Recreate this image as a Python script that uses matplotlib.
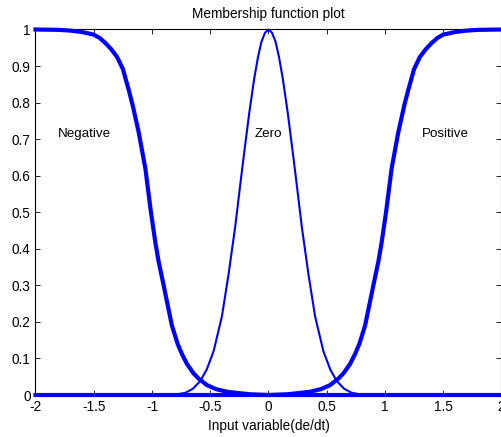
import matplotlib
matplotlib.use("Agg")
import matplotlib.pyplot as plt

plt.rcParams["font.family"] = ["Liberation Sans", "DejaVu Sans"]

# membership curves
neg_x = [-2.0, -1.8, -1.7, -1.6, -1.5, -1.45, -1.4, -1.35, -1.3, -1.25, -1.2,
         -1.166, -1.115, -1.057, -1.009, -0.97, -0.943, -0.9, -0.886, -0.829,
         -0.78, -0.743, -0.7, -0.643, -0.6, -0.528, -0.45, -0.357, -0.25, -0.16,
         0.0, 2.0]
neg_y = [1.0, 0.999, 0.997, 0.993, 0.986, 0.977, 0.963, 0.946, 0.925, 0.892, 0.835,
         0.793, 0.720, 0.620, 0.500, 0.415, 0.365, 0.300, 0.278, 0.190,
         0.140, 0.112, 0.085, 0.059, 0.045, 0.027, 0.016, 0.009, 0.005, 0.002,
         0.0, 0.0]

zero_x = [-2.0, -1.0, -0.80, -0.714, -0.65, -0.586, -0.53, -0.471, -0.40, -0.343,
          -0.286, -0.237, -0.20, -0.166, -0.123, -0.09, -0.06, -0.03, 0.0,
          0.03, 0.06, 0.09, 0.123, 0.166, 0.20, 0.237, 0.286, 0.343, 0.40,
          0.471, 0.53, 0.586, 0.65, 0.714, 0.80, 1.0, 2.0]
zero_y = [0.0, 0.0, 0.001, 0.006, 0.017, 0.038, 0.070, 0.120, 0.215, 0.330,
          0.460, 0.590, 0.685, 0.770, 0.865, 0.925, 0.967, 0.991, 1.0,
          0.991, 0.967, 0.925, 0.865, 0.770, 0.685, 0.590, 0.460, 0.330, 0.215,
          0.120, 0.070, 0.038, 0.017, 0.006, 0.001, 0.0, 0.0]

pos_x = [-2.0, 0.0, 0.16, 0.25, 0.357, 0.45, 0.528, 0.6, 0.643, 0.7, 0.743, 0.78,
         0.829, 0.886, 0.9, 0.943, 0.97, 1.009, 1.057, 1.115, 1.166, 1.2, 1.25,
         1.3, 1.35, 1.4, 1.45, 1.5, 1.6, 1.7, 1.8, 2.0]
pos_y = [0.0, 0.0, 0.002, 0.005, 0.009, 0.016, 0.027, 0.045, 0.059, 0.085, 0.112,
         0.140, 0.190, 0.278, 0.300, 0.365, 0.415, 0.500, 0.620, 0.720, 0.793,
         0.835, 0.892, 0.925, 0.946, 0.963, 0.977, 0.986, 0.993, 0.997, 0.999, 1.0]

labels = ["Negative", "Zero", "Positive"]
label_x = [-1.58, 0.0, 1.52]
label_y = 0.715

xticks = [-2, -1.5, -1, -0.5, 0, 0.5, 1, 1.5, 2]
xtick_labels = ["-2", "-1.5", "-1", "-0.5", "0", "0.5", "1", "1.5", "2"]
yticks = [0, 0.1, 0.2, 0.3, 0.4, 0.5, 0.6, 0.7, 0.8, 0.9, 1]
ytick_labels = ["0", "0.1", "0.2", "0.3", "0.4", "0.5", "0.6", "0.7", "0.8", "0.9", "1"]

fig = plt.figure(figsize=(5.02, 4.37), dpi=100)
ax = fig.add_axes([0.0707, 0.0961, 0.9283, 0.8364])

blue = (0, 0, 1)
ax.plot(neg_x, neg_y, color=blue, lw=3.0, clip_on=False, zorder=3)
ax.plot(zero_x, zero_y, color=blue, lw=1.5, clip_on=False, zorder=3)
ax.plot(pos_x, pos_y, color=blue, lw=3.0, clip_on=False, zorder=3)

for txt, xx in zip(labels, label_x):
    ax.text(xx, label_y, txt, ha="center", va="center", fontsize=9.6)

ax.set_xlim(-2, 2)
ax.set_ylim(0, 1)
ax.set_xticks(xticks)
ax.set_xticklabels(xtick_labels)
ax.set_yticks(yticks)
ax.set_yticklabels(ytick_labels)
ax.tick_params(direction="in", length=3.5, width=0.6, top=True, right=True,
               labelsize=9.8, pad=3.5)
for s in ax.spines.values():
    s.set_linewidth(0.8)

ax.set_title("Membership function plot", fontsize=9.8, pad=8)
ax.set_xlabel("Input variable(de/dt)", fontsize=9.8, labelpad=4)

fig.savefig("out.png", dpi=100)
